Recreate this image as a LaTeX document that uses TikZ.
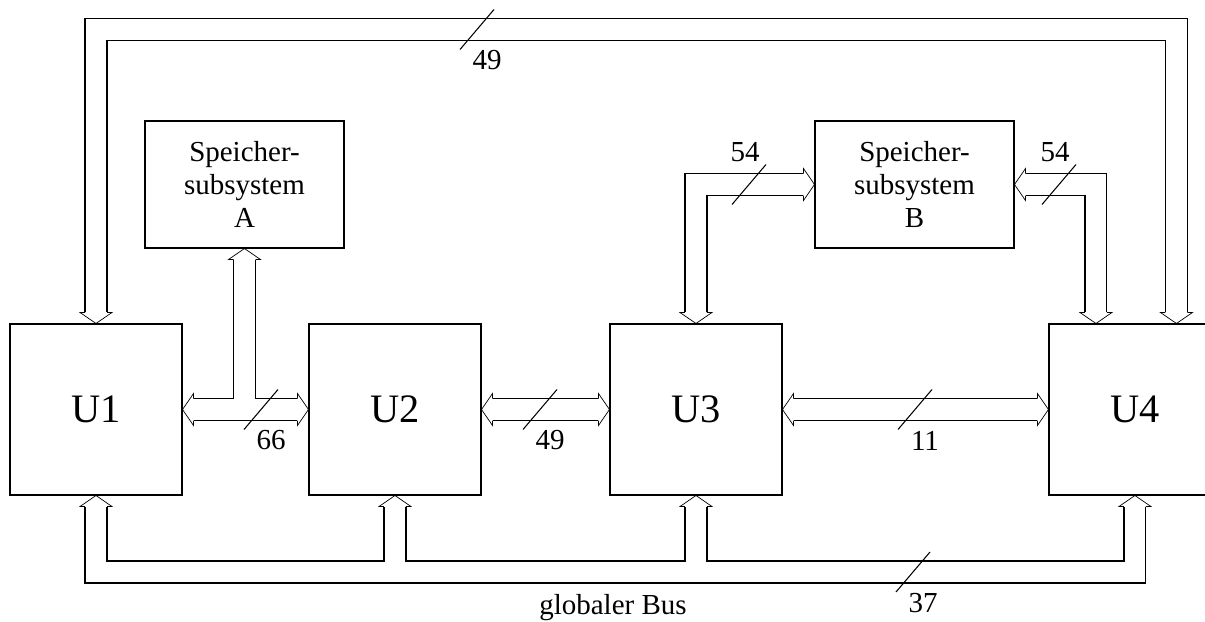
\documentclass[tikz,border=0pt]{standalone}
\usepackage{fontspec}
\setmainfont{Liberation Serif}
\usetikzlibrary{positioning, calc, backgrounds}

\begin{document}
\begin{tikzpicture}[
        x=0.02cm, y=-0.02cm, line width=0.6pt,
        unit/.style={rectangle, draw, minimum width=3.44cm, minimum height=3.42cm,
                     font=\fontsize{23}{27}\selectfont},
        mem/.style={rectangle, draw, minimum width=3.98cm, minimum height=2.54cm,
                    align=center, inner sep=0pt, font=\fontsize{16.5}{18.8}\selectfont},
        num/.style={inner sep=0pt, font=\fontsize{16.5}{19}\selectfont},
        bus/.style={draw=white, line width=11.9pt, preaction={draw=black, line width=13.1pt}},
        pics/bushead/.style={code={
            \fill[white] (-11.6,-11) rectangle (11.6,0);
            \filldraw[fill=white] (-11,-11) -- (-16,-11) -- (0,0) -- (16,-11) -- (11,-11);
        }},
        pics/slashdown/.style={code={
            \draw (-17,20) -- (17,-20);
            \node[num] (-n) at (10,31) {#1};
        }},
        pics/slashup/.style={code={
            \draw (-17,20) -- (17,-20);
            \node[num] (-n) at (-4,-32) {#1};
        }}
      ]
        \useasboundingbox (0,0) rectangle (1205,622);

        \node[unit] (u1) at (96,409.5) {U1};
        \node[unit, right=2.52cm of u1] (u2) {U2};
        \node[unit, right=2.56cm of u2] (u3) {U3};
        \node[unit, right=5.32cm of u3] (u4) {U4};
        \node[mem] (spa) at (244.5,184.5) {Speicher-\\subsystem\\A};
        \node[mem] (spb) at (914.5,184.5) {Speicher-\\subsystem\\B};

        \coordinate (toprail) at (0,29.5);
        \coordinate (rail) at (0,572);
        \coordinate (u4a) at ($(u4.north)+(-39,0)$);
        \coordinate (u4b) at ($(u4.north)+(41.5,0)$);

        \begin{scope}[on background layer]
        % busses
        \draw[bus] (u1.north) -- (u1.north |- toprail) -- (u4b |- toprail) -- (u4b);
        \draw[bus] (u1.east) -- (u2.west) (spa.south) -- (spa.south |- u1.east);
        \draw[bus] (u2.east) -- (u3.west);
        \draw[bus] (u3.east) -- (u4.west);
        \draw[bus] (u3.north) |- (spb.west);
        \draw[bus] (spb.east) -| (u4a);
        \draw[bus] (u1.south) -- (u1.south |- rail) -- (u4.south |- rail) -- (u4.south)
                   (u2.south) -- (u2.south |- rail) (u3.south) -- (u3.south |- rail);
        % heads
        \pic at (u1.north) {bushead};
        \pic at (u4b) {bushead};
        \pic[rotate=-90] at (u1.east) {bushead};
        \pic[rotate=90] at (u2.west) {bushead};
        \pic[rotate=180] at (spa.south) {bushead};
        \pic[rotate=-90] at (u2.east) {bushead};
        \pic[rotate=90] at (u3.west) {bushead};
        \pic[rotate=-90] at (u3.east) {bushead};
        \pic[rotate=90] at (u4.west) {bushead};
        \pic at (u3.north) {bushead};
        \pic[rotate=90] at (spb.west) {bushead};
        \pic[rotate=-90] at (spb.east) {bushead};
        \pic at (u4a) {bushead};
        \pic[rotate=180] at (u1.south) {bushead};
        \pic[rotate=180] at (u2.south) {bushead};
        \pic[rotate=180] at (u3.south) {bushead};
        \pic[rotate=180] at (u4.south) {bushead};
        \end{scope}

        % bus widths
        \pic (w49a) at (477,29.5) {slashdown=49};
        \pic (w66) at (261,409.5) {slashdown=66};
        \pic (w49b) at (540,409.5) {slashdown=49};
        \pic (w11) at (915,409.5) {slashdown=11};
        \pic (w54a) at (749,184.5) {slashup=54};
        \pic (w54b) at (1059,184.5) {slashup=54};
        \pic (w37) at (913,572) {slashdown=37};
        \node[num, anchor=base] (gbus) at (613,614) {globaler Bus};
      \end{tikzpicture}
\end{document}
